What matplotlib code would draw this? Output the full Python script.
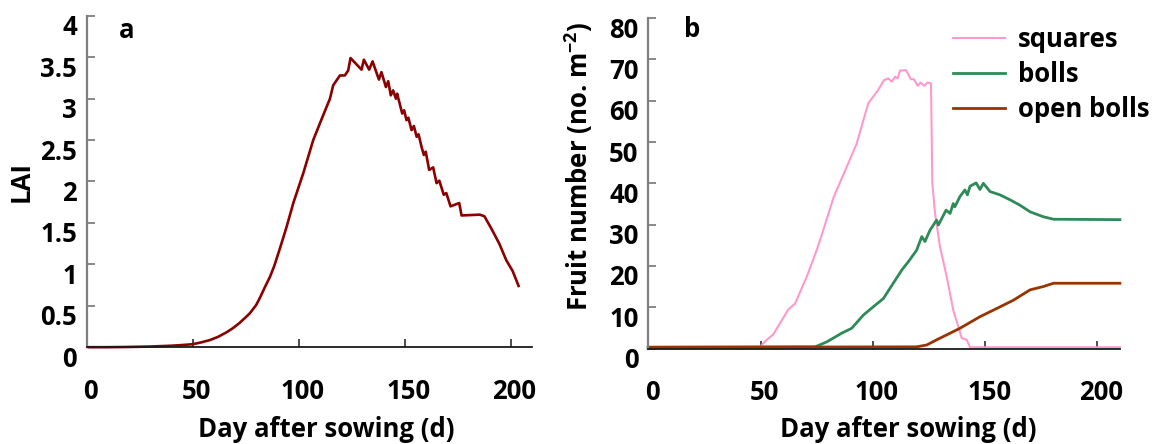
import matplotlib
matplotlib.use("Agg")
import matplotlib.pyplot as plt
import matplotlib.transforms as mtransforms

FONT = 'Open Sans'
plt.rcParams['font.family'] = [FONT, 'DejaVu Sans']
FW = 'bold'
plt.rcParams['font.weight'] = FW
plt.rcParams['mathtext.fontset'] = 'custom'
plt.rcParams['mathtext.rm'] = FONT + ':bold'
plt.rcParams['mathtext.bf'] = FONT + ':bold'
plt.rcParams['mathtext.default'] = 'rm'

# ---------------- data ----------------
lai_days = [1, 10, 20, 30, 40, 45, 50, 54, 58, 62, 66, 69, 72, 75, 77, 80, 82, 84,
            86.5, 88.5, 90.4, 92.5, 94.3, 97.5,
            102.2, 106.9, 111.6, 114.8, 116.3, 119.5, 121.8, 123.4, 124.5,
            129.7, 130.8, 133.3, 134.9, 137.9, 139.1, 141.2, 142.3, 143.5, 144.6,
            145.9, 146.5, 148.9, 149.8, 150.9, 151.8, 153.3, 154.4, 155.7, 156.6,
            158.0, 159.1, 160.0, 161.6, 163.5, 165.1, 166.4, 168.5, 169.7, 171.7,
            175.8, 176.9, 185.5, 187.7, 191.0, 194.7, 198.0, 201.0, 203.8]
lai_vals = [0.0, 0.0, 0.003, 0.008, 0.018, 0.026, 0.036, 0.058, 0.085, 0.125, 0.18,
            0.23, 0.29, 0.36, 0.41, 0.51, 0.61, 0.72,
            0.85, 0.98, 1.13, 1.30, 1.45, 1.74, 2.10, 2.50, 2.80, 3.00, 3.16, 3.28,
            3.28, 3.34, 3.49, 3.35, 3.47, 3.35, 3.45, 3.23, 3.32, 3.14, 3.21, 3.04,
            3.10, 3.00, 3.06, 2.82, 2.86, 2.74, 2.77, 2.62, 2.67, 2.54, 2.57, 2.42,
            2.32, 2.36, 2.14, 2.17, 1.98, 2.01, 1.84, 1.86, 1.70, 1.74, 1.59, 1.60,
            1.58, 1.43, 1.25, 1.05, 0.92, 0.74]

sq_days = [0, 49.5, 50.1, 53, 55.5, 58.7, 62.3, 65.4, 70.6, 75, 77.5, 82.6, 87.7,
           92.8, 98.0, 100.2, 102.4, 105, 106.9, 108.4, 109.9, 111.1, 112.1, 114.8,
           116.9, 118.3, 120, 121.3, 122.9, 124.3, 125.9, 126.5, 127.7, 129.9,
           132.9, 135.8, 139.6, 141.8, 143.3, 210]
sq_vals = [0.3, 0.3, 0.6, 2.2, 3.3, 6.1, 9.4, 10.9, 17.4, 23.8, 27.9, 36.7, 43.1,
           49.6, 59.4, 61.0, 62.6, 65.0, 65.4, 64.6, 65.8, 65.4, 67.3, 67.4, 65.2,
           65.2, 63.6, 64.4, 63.6, 64.4, 64.2, 40.0, 32.7, 24.6, 17.4, 9.3, 2.5,
           2.1, 0.3, 0.3]

boll_days = [0, 74.3, 79.5, 86.1, 90.6, 95.8, 100.2, 104.7, 109.1, 112.9, 115.8,
             119.5, 121.8, 123.2, 125.5, 128.4, 129.2, 132.6, 134.4, 135.8, 136.5,
             138.8, 141, 142.1, 143.3, 146, 147.7, 149.2, 152.2, 156.6, 161.1,
             165.5, 170, 175.9, 180.4, 210]
boll_vals = [0.3, 0.4, 1.6, 3.7, 4.9, 8.1, 10.1, 12.1, 15.8, 19.0, 21.0, 23.8,
             27.1, 25.9, 28.7, 31.1, 29.9, 33.5, 32.7, 35.1, 34.3, 36.8, 38.4,
             37.2, 39.3, 40.1, 38.5, 40.0, 38.0, 37.2, 36.0, 34.7, 33.1, 31.9,
             31.3, 31.2]

open_days = [0, 119.5, 124, 128.4, 132.9, 138.8, 147.7, 155.2, 162.6, 170, 175.9,
             180.4, 210]
open_vals = [0.3, 0.4, 0.85, 2.1, 3.3, 4.9, 7.7, 9.7, 11.7, 14.2, 15.0, 15.8, 15.8]

lai_ticks = [0, 0.5, 1, 1.5, 2, 2.5, 3, 3.5, 4]
lai_ticklabels = ['0', '0.5', '1', '1.5', '2', '2.5', '3', '3.5', '4']
fruit_ticks = [0, 10, 20, 30, 40, 50, 60, 70, 80]
day_ticks = [0, 50, 100, 150, 200]

series_labels = ['squares', 'bolls', 'open bolls']
series_colors = ['#FF99CC', '#2E8B57', '#993300']
lai_color = '#8B0000'

# ---------------- figure ----------------
W, H = 1156, 444
fig = plt.figure(figsize=(W / 100, H / 100), dpi=100)

ax1 = fig.add_axes([86.7 / W, 1 - 347.2 / H, 445.0 / W, 331.4 / H])
ax2 = fig.add_axes([648.2 / W, 1 - 348.5 / H, 471.7 / W, 330.4 / H])

ax1.plot(lai_days, lai_vals, color=lai_color, lw=1.9, clip_on=False)
ax2.plot(sq_days, sq_vals, color=series_colors[0], lw=1.5, label=series_labels[0], clip_on=False)
ax2.plot(boll_days, boll_vals, color=series_colors[1], lw=2.0, label=series_labels[1], clip_on=False)
ax2.plot(open_days, open_vals, color=series_colors[2], lw=2.0, label=series_labels[2], clip_on=False)

fs = 18.5
ax1.set_ylim(0, 4)
ax1.set_yticks(lai_ticks)
ax1.set_yticklabels(lai_ticklabels)
ax2.set_ylim(0, 80)
ax2.set_yticks(fruit_ticks)

offset = mtransforms.ScaledTranslation(0, -9 / 100, fig.dpi_scale_trans)
for ax in (ax1, ax2):
    ax.set_xlim(0, 210)
    ax.set_xticks(day_ticks)
    for s in ('top', 'right'):
        ax.spines[s].set_visible(False)
    ax.spines['left'].set_color('#7f7f7f')
    ax.spines['left'].set_linewidth(1.6)
    ax.spines['bottom'].set_color('#1a1a1a')
    ax.spines['bottom'].set_linewidth(1.3)
    ax.tick_params(axis='y', direction='in', length=6, width=1.3, colors='#7f7f7f',
                   labelcolor='black', labelsize=fs, pad=7.0)
    ax.tick_params(axis='x', direction='in', length=6, width=1.3, colors='#404040',
                   labelcolor='black', labelsize=fs, pad=22)
    for lab in ax.get_yticklabels():
        lab.set_fontweight(FW)
        lab.set_transform(lab.get_transform() + offset)
    for lab in ax.get_xticklabels():
        lab.set_fontweight(FW)
        lab.set_transform(lab.get_transform() + mtransforms.ScaledTranslation(4 / 100, 0, fig.dpi_scale_trans))
    ax.set_xlabel('Day after sowing (d)', fontsize=fs, fontweight=FW)

ax1.set_ylabel('LAI', fontsize=fs, fontweight=FW)
ax2.set_ylabel('Fruit number (no. m$^{-2}$)', fontsize=fs, fontweight=FW)

ax1.xaxis.set_label_coords(0.538, -0.248)
ax1.xaxis.label.set_va('center')
ax2.xaxis.set_label_coords(0.552, -0.245)
ax2.xaxis.label.set_va('center')
ax1.yaxis.set_label_coords(-0.148, 0.5)
ax1.yaxis.label.set_va('center')
ax2.yaxis.set_label_coords(-0.147, 0.552)
ax2.yaxis.label.set_va('center')

ax1.text(0.09, 0.957, 'a', transform=ax1.transAxes, fontsize=fs, fontweight=FW,
         ha='center', va='center')
ax2.text(0.093, 0.964, 'b', transform=ax2.transAxes, fontsize=fs, fontweight=FW,
         ha='center', va='center')

leg = ax2.legend(loc='upper left', bbox_to_anchor=(0.647, 0.975), frameon=False,
                 fontsize=fs, handlelength=2.0, handletextpad=0.5,
                 labelspacing=0.3, borderpad=0, borderaxespad=0)
for t in leg.get_texts():
    t.set_fontweight(FW)

fig.savefig('out.png', dpi=100)
